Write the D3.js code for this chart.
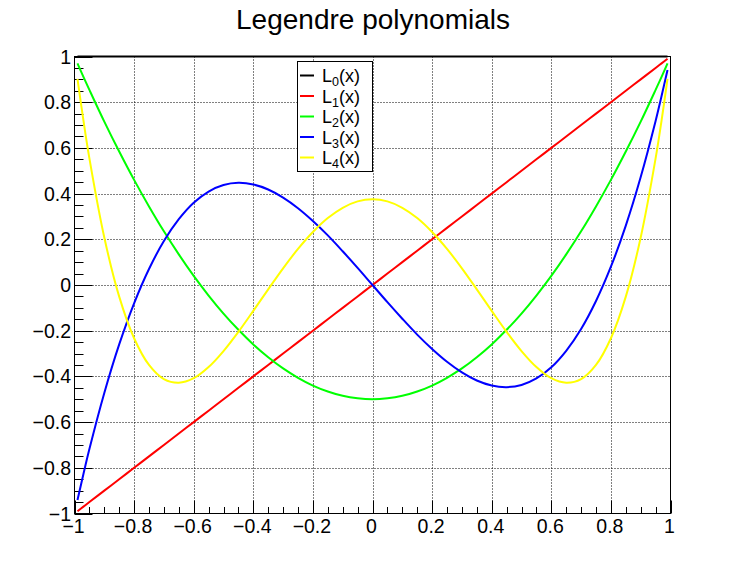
<!DOCTYPE html>
<html>
<head>
<meta charset="utf-8">
<script src="https://cdn.jsdelivr.net/npm/d3@7"></script>
<style>
	body { margin: 0; background: #fff; }
	text { font-family: "Liberation Sans", Arial, sans-serif; }
</style>
</head>
<body>
<div id="chart"></div>
<script>
// sample points along x
var xs = [-0.99, -0.97, -0.95, -0.9, -0.85, -0.8, -0.75, -0.7, -0.65, -0.6, -0.55, -0.5, -0.45, -0.4, -0.35, -0.3, -0.25, -0.2, -0.15, -0.1, -0.05,
	0, 0.05, 0.1, 0.15, 0.2, 0.25, 0.3, 0.35, 0.4, 0.45, 0.5, 0.55, 0.6, 0.65, 0.7, 0.75, 0.8, 0.85, 0.9, 0.95, 0.97, 0.99];

var l0 = [1, 1, 1, 1, 1, 1, 1, 1, 1, 1, 1, 1, 1, 1, 1, 1, 1, 1, 1, 1, 1,
	1, 1, 1, 1, 1, 1, 1, 1, 1, 1, 1, 1, 1, 1, 1, 1, 1, 1, 1, 1, 1, 1];
var l1 = [-0.99, -0.97, -0.95, -0.9, -0.85, -0.8, -0.75, -0.7, -0.65, -0.6, -0.55, -0.5, -0.45, -0.4, -0.35, -0.3, -0.25, -0.2, -0.15, -0.1, -0.05,
	0, 0.05, 0.1, 0.15, 0.2, 0.25, 0.3, 0.35, 0.4, 0.45, 0.5, 0.55, 0.6, 0.65, 0.7, 0.75, 0.8, 0.85, 0.9, 0.95, 0.97, 0.99];
var l2 = [0.970, 0.911, 0.854, 0.715, 0.584, 0.46, 0.344, 0.235, 0.134, 0.04, -0.046, -0.125, -0.196, -0.26, -0.316, -0.365, -0.406, -0.44, -0.466, -0.485, -0.496,
	-0.5, -0.496, -0.485, -0.466, -0.44, -0.406, -0.365, -0.316, -0.26, -0.196, -0.125, -0.046, 0.04, 0.134, 0.235, 0.344, 0.46, 0.584, 0.715, 0.854, 0.911, 0.970];
var l3 = [-0.941, -0.827, -0.718, -0.4725, -0.260, -0.08, 0.070, 0.1925, 0.288, 0.36, 0.409, 0.4375, 0.447, 0.44, 0.418, 0.3825, 0.336, 0.28, 0.217, 0.1475, 0.075,
	0, -0.075, -0.1475, -0.217, -0.28, -0.336, -0.3825, -0.418, -0.44, -0.447, -0.4375, -0.409, -0.36, -0.288, -0.1925, -0.070, 0.08, 0.260, 0.4725, 0.718, 0.827, 0.941];
var l4 = [0.902, 0.720, 0.554, 0.208, -0.051, -0.233, -0.350, -0.412, -0.428, -0.408, -0.359, -0.289, -0.205, -0.113, -0.019, 0.073, 0.158, 0.232, 0.293, 0.338, 0.366,
	0.375, 0.366, 0.338, 0.293, 0.232, 0.158, 0.073, -0.019, -0.113, -0.205, -0.289, -0.359, -0.408, -0.428, -0.412, -0.350, -0.233, -0.051, 0.208, 0.554, 0.720, 0.902];

var series = [l0, l1, l2, l3, l4];
var names = ["0", "1", "2", "3", "4"];
var colors = ["#000000", "#ff0000", "#00ff00", "#0000ff", "#ffff00"];

var majorTicks = [-1, -0.8, -0.6, -0.4, -0.2, 0, 0.2, 0.4, 0.6, 0.8, 1];
var tickLabels = ["\u22121", "\u22120.8", "\u22120.6", "\u22120.4", "\u22120.2", "0", "0.2", "0.4", "0.6", "0.8", "1"];
var minorTicks = d3.range(-20, 21).map(function(i) { return i / 20; });

var width = 746;
var height = 572;

var x = d3.scaleLinear().domain([-1, 1]).range([74.5, 670.5]);
var y = d3.scaleLinear().domain([-1, 1]).range([513.5, 56.5]);

var svg = d3.select("#chart")
	.append("svg")
		.attr("width", width)
		.attr("height", height);

svg.append("text")
	.attr("x", 373)
	.attr("y", 29)
	.attr("text-anchor", "middle")
	.style("font-size", "28px")
	.text("Legendre polynomials");

// grid
var inner = majorTicks.slice(1, -1);
svg.append("g").selectAll("line.gx")
	.data(inner)
	.enter()
	.append("line")
		.attr("x1", function(d) { return Math.round(x(d)) + 0.5; })
		.attr("x2", function(d) { return Math.round(x(d)) + 0.5; })
		.attr("y1", y(-1))
		.attr("y2", y(1))
		.attr("stroke", "#000")
		.attr("stroke-dasharray", "1,2");
svg.append("g").selectAll("line.gy")
	.data(inner)
	.enter()
	.append("line")
		.attr("y1", function(d) { return Math.round(y(d)) + 0.5; })
		.attr("y2", function(d) { return Math.round(y(d)) + 0.5; })
		.attr("x1", x(-1))
		.attr("x2", x(1))
		.attr("stroke", "#000")
		.attr("stroke-dasharray", "1,2");

// frame
svg.append("rect")
	.attr("x", x(-1))
	.attr("y", y(1))
	.attr("width", x(1) - x(-1))
	.attr("height", y(-1) - y(1))
	.attr("fill", "none")
	.attr("stroke", "#000");

// ticks (inward, ROOT style)
var isMajor = function(d) { return Math.abs(d * 5 - Math.round(d * 5)) < 1e-6; };
svg.append("g").selectAll("line")
	.data(minorTicks)
	.enter()
	.append("line")
		.attr("x1", function(d) { return Math.round(x(d)) + 0.5; })
		.attr("x2", function(d) { return Math.round(x(d)) + 0.5; })
		.attr("y1", y(-1))
		.attr("y2", function(d) { return y(-1) - (isMajor(d) ? 13 : 6.5); })
		.attr("stroke", "#000");
svg.append("g").selectAll("line")
	.data(minorTicks)
	.enter()
	.append("line")
		.attr("y1", function(d) { return Math.round(y(d)) + 0.5; })
		.attr("y2", function(d) { return Math.round(y(d)) + 0.5; })
		.attr("x1", x(-1))
		.attr("x2", function(d) { return x(-1) + (isMajor(d) ? 18 : 9); })
		.attr("stroke", "#000");

svg.append("g").selectAll("text")
	.data(majorTicks)
	.enter()
	.append("text")
		.attr("x", function(d) { return x(d) - 1; })
		.attr("y", 533)
		.attr("text-anchor", "middle")
		.style("font-size", "19.5px")
		.text(function(d, i) { return tickLabels[i]; });
svg.append("g").selectAll("text")
	.data(majorTicks)
	.enter()
	.append("text")
		.attr("x", 71)
		.attr("y", function(d) { return y(d) + 7; })
		.attr("text-anchor", "end")
		.style("font-size", "19.5px")
		.text(function(d, i) { return tickLabels[i]; });

// curves
var line = d3.line()
	.x(function(d, i) { return x(xs[i]); })
	.y(function(d) { return y(d); })
	.curve(d3.curveCatmullRom);

svg.append("g").selectAll("path")
	.data(series)
	.enter()
	.append("path")
		.attr("d", line)
		.attr("fill", "none")
		.attr("stroke", function(d, i) { return colors[i]; })
		.attr("stroke-width", 2);

// legend
var leg = svg.append("g");
leg.append("rect")
	.attr("x", 297.5)
	.attr("y", 61.5)
	.attr("width", 75)
	.attr("height", 110)
	.attr("fill", "#fff")
	.attr("stroke", "#000");
var rows = leg.selectAll("g.row")
	.data(names)
	.enter()
	.append("g")
		.attr("transform", function(d, i) { return "translate(0," + (75.5 + i * 20.5) + ")"; });
rows.append("line")
	.attr("x1", 300)
	.attr("x2", 314)
	.attr("stroke", function(d, i) { return colors[i]; })
	.attr("stroke-width", 2);
var t = rows.append("text")
	.attr("x", 322)
	.attr("y", 6.5)
	.style("font-size", "18px");
t.append("tspan").text("L");
t.append("tspan")
	.attr("dy", 4)
	.style("font-size", "12.5px")
	.text(function(d) { return d; });
t.append("tspan")
	.attr("dy", -4)
	.text("(x)");
</script>
</body>
</html>
